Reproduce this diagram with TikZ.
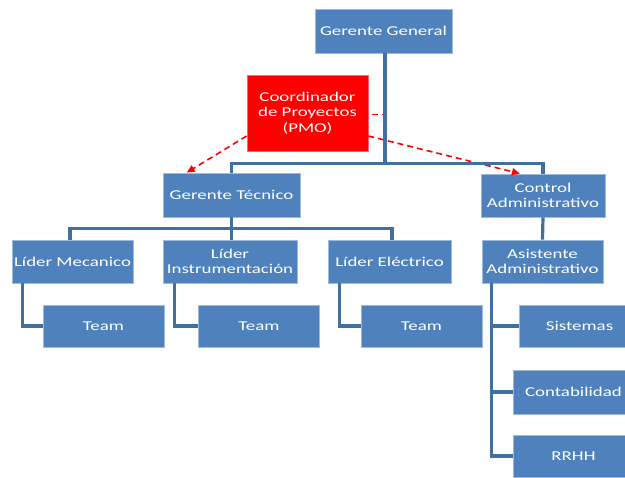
\documentclass[tikz,border=0pt]{standalone}
\usepackage{fontspec}
\setmainfont{Carlito}[FakeStretch=1.4]
\usetikzlibrary{calc,arrows.meta}
\definecolor{boxblue}{HTML}{4F81BD}
\definecolor{linkblue}{HTML}{41709F}
\definecolor{pmored}{HTML}{FF0000}
\begin{document}
\begin{tikzpicture}[x=1pt,y=-1pt,
  unit/.style={rectangle, fill=boxblue, draw=boxblue!55!white, line width=0.8pt,
    text=white, align=center, inner sep=1pt, minimum width=121pt, minimum height=43pt,
    font=\fontsize{13.5}{15.5}\selectfont},
  pmo/.style={unit, fill=pmored, draw=pmored!60!white},
  link/.style={draw=linkblue, line width=3.2pt},
  pmolink/.style={draw=pmored, line width=1.6pt, dash pattern=on 6pt off 4pt},
  pmoarrow/.style={pmolink, -{Triangle[length=8pt,width=7pt]}},
]
\clip (0,0) rectangle (625,478);
\fill[white] (0,0) rectangle (625,478);

% boxes
\node[unit, minimum width=137pt, minimum height=44pt] (gg) at (383.5,31) {Gerente General};
\node[pmo, minimum height=76pt] (pmo) at (307.5,113) {Coordinador\\de Proyectos\\(PMO)};
\node[unit, minimum width=137pt, minimum height=44pt] (gt) at (231.5,195) {Gerente Técnico};
\node[unit, minimum width=124pt] (ca) at (543,195.5) {Control\\Administrativo};
\node[unit] (lm) at (72.5,261.5) {Líder Mecanico};
\node[unit, minimum width=134pt] (li) at (230,261.5) {Líder\\Instrumentación};
\node[unit, minimum width=123pt] (le) at (389.5,261.5) {Líder Eléctrico};
\node[unit] (aa) at (542.5,261.5) {Asistente\\Administrativo};
\node[unit, minimum height=42pt] (t1) at (103.5,326) {Team};
\node[unit, minimum height=42pt] (t2) at (259,326) {Team};
\node[unit, minimum height=42pt] (t3) at (421.5,326) {Team};
\node[unit, minimum height=42pt] (sis) at (579.5,326) {Sistemas};
\node[unit, minimum height=44pt] (con) at (573.5,392) {Contabilidad};
\node[unit, minimum height=42pt] (rrhh) at (573.5,456) {RRHH};

% staff link of the project office
\coordinate (pmojoin) at ($(gg.south)+(3,61)$);
\draw[pmolink] ($(gg.south)+(3,0)$) -- (pmojoin) -- (pmojoin -| pmo.east);
\draw[pmoarrow] ($(pmo.south west)!0.2!(pmo.north west)$) -- ($(gt.north west)!0.175!(gt.north east)$);
\draw[pmoarrow] ($(pmo.south east)!0.2!(pmo.north east)$) -- ($(ca.north west)!0.315!(ca.north east)$);

% reporting lines
\coordinate (bus1) at ($(gg.south)+(1.5,110)$);
\draw[link] ($(gg.south)+(1.5,0)$) -- (bus1);
\draw[link] (gt.north) |- (bus1) -| (ca.north);
\draw[link] (ca.south) -- (aa.south |- aa.north);

\coordinate (bus2) at ($(gt.south)+(0,11)$);
\draw[link] (gt.south) -- (bus2);
\draw[link] ($(lm.north)+(-2.5,0)$) |- (bus2) -| ($(le.north)+(2.5,0)$);
\draw[link] (bus2) -- ($(li.north)+(1.5,0)$);

\draw[link] ($(lm.south west)+(11,0)$) |- (t1.west);
\draw[link] ($(li.south west)+(12,0)$) |- (t2.west);
\draw[link] ($(le.south west)+(12,0)$) |- (t3.west);

\coordinate (aadrop) at ($(aa.south west)+(10,0)$);
\draw[link] (aadrop) |- (rrhh.west);
\draw[link] (aadrop) |- (sis.west);
\draw[link] (aadrop) |- (con.west);
\end{tikzpicture}
\end{document}
